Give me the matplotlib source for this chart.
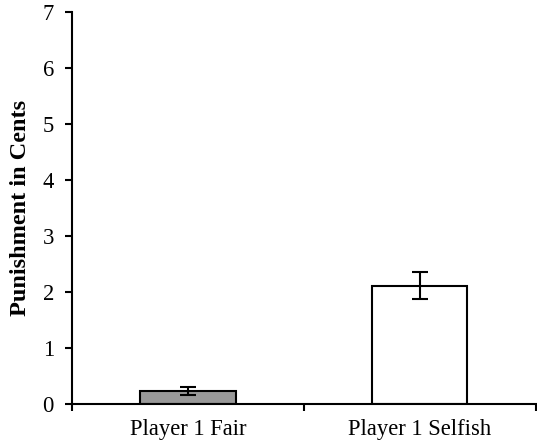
import matplotlib
matplotlib.use("Agg")
import matplotlib.pyplot as plt

categories = ["Player 1 Fair", "Player 1 Selfish"]
means = [0.23, 2.11]
errors = [0.07, 0.24]
colors = ["#999999", "#ffffff"]

plt.rcParams['font.family'] = ['Liberation Serif', 'DejaVu Serif']

fig = plt.figure(figsize=(5.37, 4.43), dpi=100)
ax = fig.add_axes([0.134, 0.088, 0.864, 0.885])

x = [0.5, 1.5]
ax.bar(x, means, width=0.41, color=colors, edgecolor="black", linewidth=1.5,
       yerr=errors, capsize=6, error_kw=dict(elinewidth=1.5, capthick=1.5, ecolor="black"), zorder=2)

ax.set_xlim(0, 2)
ax.set_ylim(0, 7)
ax.set_yticks(range(0, 8))
ax.set_xticks([0, 1, 2])
ax.set_xticklabels([])
ax.set_xticks(x, minor=True)
ax.set_xticklabels(categories, minor=True)
ax.tick_params(axis='x', which='minor', length=0, pad=10.5, labelsize=16.3)
ax.tick_params(axis='x', which='major', length=5, width=1.5, direction='out')
ax.tick_params(axis='y', length=5, width=1.5, direction='out', labelsize=16.3, pad=8)

for s in ['top', 'right']:
    ax.spines[s].set_visible(False)
for s in ['left', 'bottom']:
    ax.spines[s].set_linewidth(1.5)

ax.set_ylabel("Punishment in Cents", fontsize=17.5, fontweight='bold')
ax.yaxis.set_label_coords(-0.088, 0.5)

fig.savefig("out.png", dpi=100)
